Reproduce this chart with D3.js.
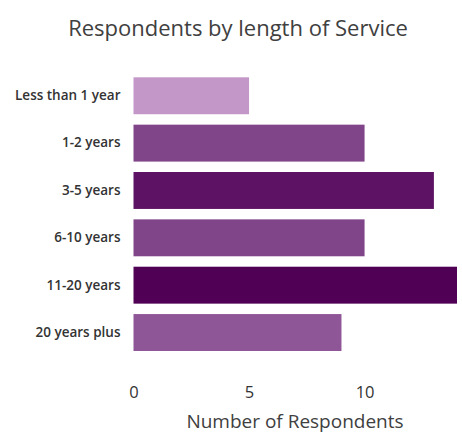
<!DOCTYPE html>
<html>
<head>
<meta charset="utf-8">
<script src="https://cdn.jsdelivr.net/npm/d3@7"></script>
<style>
  html, body { margin: 0; padding: 0; background: #fff; }
  svg text { font-family: "Open Sans", sans-serif; }
</style>
</head>
<body>
<svg id="chart" width="462" height="439"></svg>
<script>
const categories = ["Less than 1 year", "1-2 years", "3-5 years", "6-10 years", "11-20 years", "20 years plus"];
const values = [5, 10, 13, 10, 14, 9];
const barColors = ["#c497c9", "#804488", "#5d1263", "#804488", "#500055", "#8e5696"];
const xTicks = [0, 5, 10];
const title = "Respondents by length of Service";
const xTitle = "Number of Respondents";

const svg = d3.select("#chart");
const x = d3.scaleLinear().domain([0, 14]).range([133.5, 457]);
const y = d3.scaleBand().domain(categories).range([72.1, 356.2]).paddingInner(0.22).paddingOuter(0.11);

svg.append("text")
  .attr("x", 238).attr("y", 36)
  .attr("text-anchor", "middle")
  .attr("fill", "#404040")
  .style("font-size", "22px")
  .text(title);

svg.selectAll("rect.bar").data(values).enter().append("rect")
  .attr("class", "bar")
  .attr("x", x(0))
  .attr("y", (d, i) => y(categories[i]))
  .attr("width", d => x(d) - x(0))
  .attr("height", y.bandwidth())
  .attr("fill", (d, i) => barColors[i]);

const yAxis = svg.append("g")
  .attr("transform", `translate(${x(0) - 13},0)`)
  .call(d3.axisLeft(y).tickSize(0).tickPadding(0));
yAxis.select(".domain").remove();
yAxis.selectAll("text")
  .attr("fill", "#333")
  .style("font-size", "13.5px")
  .style("font-weight", "600")
  .style("font-family", "'Open Sans', sans-serif");

const xAxis = svg.append("g")
  .attr("transform", "translate(0,379)")
  .call(d3.axisBottom(x).tickValues(xTicks).tickSize(0).tickPadding(7));
xAxis.select(".domain").remove();
xAxis.selectAll("text")
  .attr("fill", "#333")
  .style("font-size", "16.5px")
  .style("font-family", "'Open Sans', sans-serif");

svg.append("text")
  .attr("x", 295).attr("y", 428)
  .attr("text-anchor", "middle")
  .attr("fill", "#404040")
  .style("font-size", "19px")
  .text(xTitle);
</script>
</body>
</html>
